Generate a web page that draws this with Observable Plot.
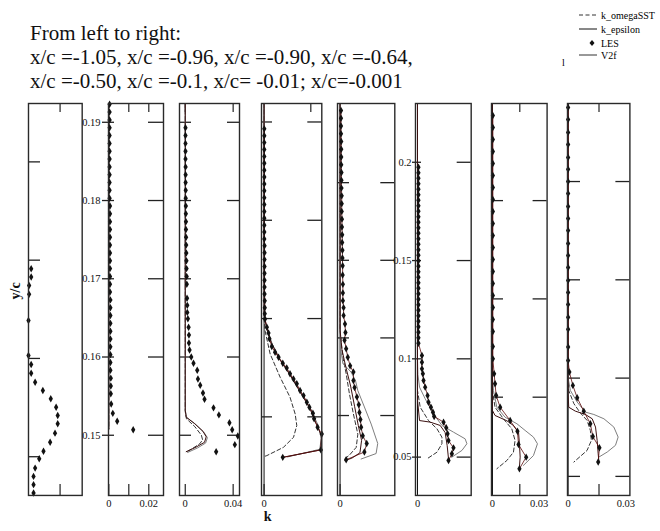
<!DOCTYPE html>
<html>
<head>
<meta charset="utf-8">
<script src="https://cdn.jsdelivr.net/npm/d3@7"></script>
<script src="https://cdn.jsdelivr.net/npm/@observablehq/plot@0.6"></script>
<style>
  body { margin: 0; background: #fff; }
  #fig { position: relative; width: 660px; height: 531px; overflow: hidden;
         font-family: "Liberation Serif", "DejaVu Serif", serif; color: #111; background: #fff; }
  #fig > svg { position: absolute; overflow: visible; }
  .title { position: absolute; left: 30px; top: 21px; font-size: 21px; line-height: 24px; white-space: nowrap; }
  .legend { position: absolute; left: 570px; top: 0; font-size: 10px; }
</style>
</head>
<body>
<div id="fig">
  <div class="title">From left to right:<br>x/c =-1.05, x/c =-0.96, x/c =-0.90, x/c =-0.64,<br>x/c =-0.50, x/c =-0.1, x/c= -0.01; x/c=-0.001</div>
  <svg class="legend" width="100" height="72" style="left:570px;top:0;font-family:'Liberation Serif',serif;font-size:10px">
    <line x1="9" y1="15" x2="27" y2="15" stroke="#333" stroke-width="1" stroke-dasharray="4,2.5"/>
    <text x="31" y="18.5">k_omegaSST</text>
    <line x1="9" y1="29" x2="27" y2="29" stroke="#111" stroke-width="1"/>
    <text x="31" y="32.5">k_epsilon</text>
    <path d="M22,40 L24.5,43 L22,46 L19.5,43 Z" fill="#111"/>
    <text x="31" y="46.5">LES</text>
    <line x1="9" y1="55" x2="27" y2="55" stroke="#333" stroke-width="1"/>
    <text x="31" y="58.5">V2f</text>
    <text x="-8" y="66">l</text>
  </svg>
</div>
<script>
// ---- station labels and tick values ----
const stations = ["-1.05", "-0.96", "-0.90", "-0.64", "-0.50", "-0.1", "-0.01", "-0.001"];
const yTicks1 = [0.2, 0.15, 0.1, 0.05];
const yTicks2 = [0.19, 0.18, 0.17, 0.16, 0.15];
const yTicks3 = [0.19, 0.18, 0.17, 0.16, 0.15];
const yTicks4 = [0.2, 0.15, 0.1, 0.05];
const yTicks5 = [0.18, 0.17, 0.16, 0.15];
const yTicks6 = [0.2, 0.15, 0.1, 0.05];
const yTicks7 = [0.15, 0.1, 0.05];
const yTicks8 = [0.2, 0.15, 0.1, 0.05];
const xLabels2 = [0, 0.02];
const xLabels3 = [0, 0.04];
const xLabels4 = [0];
const xLabels5 = [0];
const xLabels6 = [0];
const xLabels7 = [0, 0.03];
const xLabels8 = [0, 0.03];

// ---- LES profiles: [k, y/c] ----
const les1 = [[1.7e-5,0.1456],[1.7e-5,0.1414],[4e-6,0.1371],[4e-6,0.1326],[0,0.1193],[0,0.1015],[1.7e-5,0.0969],[1.7e-5,0.0925],[4.2e-5,0.0879],[9.1e-5,0.0837],[1.41e-4,0.0795],[1.75e-4,0.0752],[1.85e-4,0.071],[1.85e-4,0.0668],[1.68e-4,0.062],[1.37e-4,0.0574],[9.5e-5,0.0528],[6.8e-5,0.049],[4.2e-5,0.0442],[3.2e-5,0.04],[3.2e-5,0.0358],[3.2e-5,0.0315]];
const les2 = [[0.0004,0.1923],[0.0004,0.1913],[0.0004,0.1903],[0.0004,0.1893],[0.0004,0.1883],[0.0004,0.1873],[0.0004,0.1863],[0.0004,0.1853],[0.0004,0.1843],[0.0004,0.1833],[0.0004,0.1823],[0.0004,0.1813],[0.0004,0.1803],[0.0006,0.1793],[0.0006,0.1783],[0.0006,0.1773],[0.0006,0.1763],[0.0006,0.1753],[0.0006,0.1743],[0.0006,0.1733],[0.0006,0.1723],[0.0006,0.1713],[0.0006,0.1703],[0.0006,0.1693],[0.0006,0.1683],[0.0008,0.1673],[0.0008,0.1663],[0.0008,0.1653],[0.0008,0.1643],[0.0008,0.1633],[0.0008,0.1623],[0.0008,0.1613],[0.0008,0.1603],[0.0008,0.1593],[0.0008,0.1583],[0.001,0.1573],[0.001,0.1563],[0.001,0.1553],[0.0012,0.154],[0.002,0.1528],[0.0042,0.1518],[0.0122,0.1507]];
const les3 = [[0.0002,0.1893],[0.0002,0.1883],[0.0002,0.1873],[0.0002,0.1863],[0.0002,0.1853],[0.0003,0.1843],[0.0003,0.1833],[0.0003,0.1823],[0.0004,0.1813],[0.0004,0.1803],[0.0005,0.1793],[0.0005,0.1783],[0.0006,0.1773],[0.0006,0.1763],[0.0007,0.1753],[0.0008,0.1743],[0.0009,0.1733],[0.001,0.1723],[0.0011,0.1713],[0.0012,0.1703],[0.0013,0.1693],[0.0015,0.1675],[0.0017,0.1666],[0.0017,0.1657],[0.0022,0.1649],[0.0028,0.1638],[0.0031,0.1628],[0.0031,0.1618],[0.0036,0.1609],[0.005,0.16],[0.0069,0.1592],[0.01,0.1583],[0.0106,0.1572],[0.0125,0.1564],[0.0148,0.1554],[0.0161,0.1546],[0.0236,0.1535],[0.0281,0.1526],[0.0369,0.1516],[0.0392,0.1507],[0.0439,0.1499],[0.0414,0.1488],[0.0258,0.1479]];
const les4 = [[0.0001,0.1965],[0.0001,0.193],[0.0001,0.1895],[0.0001,0.186],[0.0001,0.1825],[0.0001,0.179],[0.0001,0.1755],[0.0001,0.172],[0.0001,0.1685],[0.0001,0.165],[0.0001,0.1615],[0.0001,0.158],[0.0001,0.1545],[0.0001,0.151],[0.0001,0.1475],[0.0001,0.144],[0.0001,0.1405],[0.0002,0.137],[0.0002,0.1335],[0.0002,0.13],[0.0002,0.1265],[0.0002,0.123],[0.0002,0.1195],[0.0002,0.116],[0.0002,0.1125],[0.0003,0.109],[0.0003,0.1055],[0.0003,0.1025],[0.0004,0.0998],[0.0012,0.0956],[0.0019,0.0927],[0.0023,0.0897],[0.0033,0.0858],[0.0047,0.0829],[0.0062,0.0803],[0.008,0.0773],[0.0097,0.0749],[0.0111,0.0719],[0.0126,0.0693],[0.014,0.0668],[0.0154,0.0634],[0.0169,0.0608],[0.0183,0.0574],[0.0194,0.0549],[0.0209,0.0518],[0.0214,0.049],[0.0229,0.0447],[0.0247,0.0413],[0.0243,0.0332],[0.008,0.0294]];
const les5 = [[0.0004,0.1893],[0.0004,0.1883],[0.0004,0.1873],[0.0004,0.1863],[0.0005,0.1853],[0.0005,0.1843],[0.0005,0.1833],[0.0005,0.1823],[0.0006,0.1813],[0.0006,0.1803],[0.0006,0.1793],[0.0007,0.1783],[0.0007,0.1773],[0.0007,0.1763],[0.0008,0.1753],[0.0008,0.1743],[0.0009,0.1733],[0.0009,0.1723],[0.001,0.1713],[0.001,0.1703],[0.0011,0.1693],[0.0011,0.1681],[0.0012,0.1669],[0.0012,0.1658],[0.0012,0.1648],[0.0015,0.1639],[0.0015,0.1629],[0.0021,0.1618],[0.0023,0.1607],[0.0019,0.1597],[0.0026,0.1586],[0.0033,0.1575],[0.0043,0.1564],[0.0057,0.1556],[0.0057,0.1545],[0.0062,0.1536],[0.0072,0.1524],[0.008,0.1514],[0.0083,0.1504],[0.0087,0.1495],[0.009,0.1485],[0.0097,0.1474],[0.0114,0.1464],[0.0104,0.1453],[0.0026,0.1443]];
const les6 = [[0.0007,0.1975],[0.0007,0.1947],[0.0007,0.1919],[0.0007,0.1891],[0.0007,0.1863],[0.0007,0.1835],[0.0007,0.1807],[0.0007,0.1779],[0.0007,0.1751],[0.0007,0.1723],[0.0007,0.1695],[0.0007,0.1667],[0.0007,0.1639],[0.0007,0.1611],[0.0007,0.1583],[0.0007,0.1555],[0.0007,0.1527],[0.0007,0.1499],[0.0007,0.1471],[0.0007,0.1443],[0.0007,0.1415],[0.0007,0.1387],[0.0007,0.1359],[0.0007,0.1331],[0.0007,0.1303],[0.0007,0.1275],[0.0007,0.1247],[0.0007,0.1219],[0.0007,0.1191],[0.0007,0.1163],[0.0007,0.1135],[0.0007,0.1107],[0.0007,0.1079],[0.0033,0.1017],[0.0033,0.0983],[0.0033,0.0949],[0.004,0.0924],[0.0045,0.089],[0.0057,0.0856],[0.0075,0.0813],[0.0082,0.0779],[0.01,0.0754],[0.0115,0.0728],[0.0124,0.0707],[0.0194,0.0678],[0.0214,0.0649],[0.0224,0.0619],[0.0231,0.0584],[0.0268,0.0547],[0.0256,0.0517],[0.0231,0.0483]];
const les7 = [[0.0002,0.1933],[0.0002,0.1872],[0.0002,0.1811],[0.0002,0.175],[0.0002,0.1689],[0.0002,0.1628],[0.0002,0.1567],[0.0002,0.1506],[0.0002,0.1445],[0.0002,0.1383],[0.0002,0.1322],[0.0002,0.1261],[0.0002,0.12],[0.0002,0.1139],[0.0002,0.1078],[0.0002,0.1017],[0.0002,0.0956],[0.0002,0.0895],[0.0002,0.0834],[0.0002,0.0758],[0.0002,0.0695],[0.0009,0.0619],[0.0014,0.0568],[0.002,0.0509],[0.0042,0.0449],[0.0097,0.0381],[0.0137,0.0327],[0.0143,0.0259],[0.0185,0.0195],[0.0148,0.0136]];
const les8 = [[0,0.2377],[0,0.2316],[0,0.225],[0,0.2188],[0,0.2122],[0,0.2062],[0,0.2],[0,0.1939],[0,0.1873],[0,0.1812],[0,0.1751],[0,0.1685],[0,0.1624],[0,0.1563],[0,0.1497],[0,0.1436],[0,0.1375],[0,0.1309],[0,0.1248],[0,0.1158],[0,0.109],[0.0006,0.1031],[0.0023,0.0963],[0.0044,0.09],[0.0076,0.0832],[0.0108,0.0768],[0.012,0.0703],[0.0152,0.0646],[0.0146,0.0573]];

// ---- RANS model profiles: [k, y/c] ----
const kOmega2 = [[0,0.1924],[0,0.1508]];
const kEps2 = [[0,0.1924],[0,0.1508]];
const v2f2 = [[0,0.1924],[0,0.1508]];
const kOmega3 = [[0,0.1924],[0,0.153],[0.001,0.1521],[0.008,0.1511],[0.0135,0.15],[0.0145,0.1494],[0.012,0.1489],[0.006,0.1483],[0.0005,0.1478]];
const kEps3 = [[0,0.1924],[0,0.1532],[0.0008,0.1523],[0.0078,0.1515],[0.0148,0.1505],[0.0175,0.1498],[0.0161,0.1491],[0.0092,0.1485],[0.0008,0.1479]];
const v2f3 = [[0,0.1924],[0,0.1532],[0.0012,0.1523],[0.0085,0.1514],[0.0155,0.1504],[0.0185,0.1497],[0.017,0.149],[0.0105,0.1484],[0.002,0.1478]];
const kOmega4 = [[0,0.2094],[0,0.1],[0.0004,0.0939],[0.0026,0.082],[0.0069,0.0701],[0.0111,0.06],[0.0133,0.0515],[0.014,0.0456],[0.0126,0.0396],[0.0083,0.0345],[0.0012,0.0303],[0,0.0298]];
const kEps4 = [[0,0.2094],[0,0.102],[0.001,0.096],[0.003,0.088],[0.0065,0.0795],[0.011,0.0715],[0.0155,0.0625],[0.0195,0.0545],[0.0225,0.046],[0.0245,0.0405],[0.0243,0.0332],[0.008,0.0294]];
const v2f4 = [[0,0.2094],[0,0.101],[0.0012,0.095],[0.0035,0.087],[0.007,0.079],[0.0115,0.071],[0.016,0.062],[0.02,0.054],[0.023,0.046],[0.0245,0.039],[0.0238,0.0335],[0.01,0.0296]];
const kOmega5 = [[0,0.1902],[0,0.161],[0.0004,0.1597],[0.0012,0.1575],[0.0026,0.1554],[0.004,0.1528],[0.0057,0.1502],[0.0076,0.1476],[0.0069,0.1459],[0.004,0.1449],[0.0019,0.1444]];
const kEps5 = [[0,0.1902],[0,0.161],[0.0008,0.1585],[0.0025,0.1562],[0.0045,0.1538],[0.0062,0.1512],[0.0078,0.1487],[0.0092,0.1468],[0.0085,0.1452],[0.005,0.1445],[0.002,0.1442]];
const v2f5 = [[0,0.1902],[0,0.161],[0.0003,0.1585],[0.0012,0.1567],[0.0047,0.1556],[0.0066,0.1545],[0.0076,0.1532],[0.0104,0.1511],[0.0133,0.1489],[0.0161,0.1464],[0.0154,0.1451],[0.009,0.1444]];
const kOmega6 = [[0,0.2299],[0,0.0839],[0.002,0.0754],[0.0082,0.0686],[0.0145,0.0644],[0.0182,0.0601],[0.0182,0.0568],[0.0145,0.0525],[0.007,0.0491]];
const kEps6 = [[0,0.2299],[0,0.079],[0.0015,0.0686],[0.0095,0.0678],[0.0169,0.0661],[0.0206,0.0625],[0.0221,0.0559],[0.0231,0.0491]];
const v2f6 = [[0,0.2299],[0,0.1],[0.0003,0.092],[0.0015,0.0856],[0.0057,0.0797],[0.0119,0.072],[0.0182,0.0661],[0.0268,0.0627],[0.0355,0.0593],[0.0368,0.0568],[0.0331,0.0534],[0.0256,0.05]];
const kOmega7 = [[0,0.1994],[0,0.058],[0.0002,0.0517],[0.0014,0.0449],[0.006,0.039],[0.0106,0.0339],[0.0124,0.028],[0.0115,0.022],[0.0079,0.0178],[0.0024,0.0136]];
const kEps7 = [[0,0.1994],[0,0.0432],[0.0014,0.0407],[0.0079,0.038],[0.0115,0.0356],[0.0143,0.0322],[0.0148,0.0263],[0.0152,0.0195],[0.0148,0.0144]];
const v2f7 = [[0,0.1994],[0,0.06],[0.0005,0.0534],[0.0024,0.0449],[0.0069,0.0398],[0.0134,0.0365],[0.0179,0.0331],[0.0225,0.0297],[0.0247,0.0263],[0.0225,0.0203],[0.017,0.0153]];
const kOmega8 = [[0,0.2397],[0,0.098],[0.0003,0.0937],[0.0028,0.087],[0.006,0.0822],[0.0092,0.0785],[0.0108,0.0734],[0.0113,0.0683],[0.0092,0.0632],[0.0028,0.0573]];
const kEps8 = [[0,0.2397],[0,0.092],[0.0003,0.0852],[0.0035,0.0832],[0.0084,0.0815],[0.0117,0.0793],[0.0133,0.0751],[0.0141,0.0683],[0.0146,0.0615],[0.0149,0.0581]];
const v2f8 = [[0,0.2397],[0,0.1],[0.0011,0.0937],[0.0044,0.0878],[0.0084,0.0827],[0.0125,0.0815],[0.0174,0.0793],[0.0222,0.0751],[0.0243,0.07],[0.023,0.0658],[0.019,0.0624],[0.0149,0.0598]];

// ---- panel layout (pixel frame edges, scale domains, tick styling) ----
const TOP = 103, BOTTOM = 495;
const panels = [
  {left: 28.3, right: 82, x: [0, 0.00034], y: [0.0303, 0.2297], les: les1, yTicks: yTicks1,
   leftTick: [0, 12], rightTick: 0, topTicks: [0.0002], botTicks: [0.0002], yAxisTitle: "y/c"},
  {left: 108, right: 163, x: [-0.00015, 0.02735], y: [0.1423, 0.1924], les: les2, kOmega: kOmega2, kEps: kEps2, v2f: v2f2,
   yTicks: yTicks2, yLabels: true, labelPad: 8, leftTick: [6, 6], rightTick: 15, topTicks: [0.01, 0.02], botTicks: [0, 0.01, 0.02], xLabels: xLabels2},
  {left: 179.3, right: 239.3, x: [-0.0048, 0.0453], y: [0.1423, 0.1924], les: les3, kOmega: kOmega3, kEps: kEps3, v2f: v2f3,
   yTicks: yTicks3, leftTick: [0, 12], rightTick: 12, topTicks: [0, 0.04], botTicks: [0, 0.04], xLabels: xLabels3},
  {left: 260.7, right: 321, x: [-0.0011, 0.0247], y: [0.01, 0.2094], les: les4, kOmega: kOmega4, kEps: kEps4, v2f: v2f4,
   yTicks: yTicks4, leftTick: [0, 11], rightTick: 14, topTicks: [0.02], botTicks: [0], xLabels: xLabels4, zeroRule: true, lesLine: true, xTitle: "k"},
  {left: 336.7, right: 394, x: [-0.0011, 0.0234], y: [0.1397, 0.1902], les: les5, kOmega: kOmega5, kEps: kEps5, v2f: v2f5,
   yTicks: yTicks5, leftTick: [0, 12], rightTick: 14, topTicks: [], botTicks: [0], xLabels: xLabels5, zeroRule: true, lesLine: true},
  {left: 415.3, right: 471, x: [-0.0015, 0.04], y: [0.0305, 0.2299], les: les6, kOmega: kOmega6, kEps: kEps6, v2f: v2f6,
   yTicks: yTicks6, yLabels: true, labelPad: 4, leftTick: [3, 6], rightTick: 14, topTicks: [], botTicks: [], xLabels: xLabels6, zeroRule: true, lesLine: true},
  {left: 490.7, right: 546.3, x: [-0.00055, 0.03], y: [0, 0.1994], les: les7, kOmega: kOmega7, kEps: kEps7, v2f: v2f7,
   yTicks: yTicks7, leftTick: [0, 12], rightTick: 14, topTicks: [0.015], botTicks: [0.015], xLabels: xLabels7, lastDx: -8, zeroRule: true, lesLine: true},
  {left: 567.3, right: 629.7, x: [-0.0003, 0.03], y: [0.0403, 0.2397], les: les8, kOmega: kOmega8, kEps: kEps8, v2f: v2f8,
   yTicks: yTicks8, leftTick: [0, 13], rightTick: 14, topTicks: [0.015], botTicks: [0.015], xLabels: xLabels8, lastDx: -4, zeroRule: true, lesLine: true}
];

const ML = 34, MR = 4, MT = 4, MB = 36;
const K = d => d[0], Y = d => d[1];
const fmt = d => (d === 0 ? "0" : String(d));

function drawPanel(p) {
  const W = p.right - p.left, H = BOTTOM - TOP;
  const marks = [];
  if (p.zeroRule) marks.push(Plot.ruleX([0], {stroke: "#111", strokeWidth: 1}));
  // inward ticks on the left and right borders
  marks.push(Plot.tickY(p.yTicks, {y: d => d, stroke: "#222", strokeWidth: 1.3,
    insetLeft: -p.leftTick[0], insetRight: W - p.leftTick[1]}));
  if (p.rightTick) marks.push(Plot.tickY(p.yTicks, {y: d => d, stroke: "#222", strokeWidth: 1.3,
    insetLeft: W - p.rightTick}));
  // short ticks on the top and bottom borders
  marks.push(Plot.tickX(p.topTicks, {x: d => d, stroke: "#222", strokeWidth: 1.2, insetBottom: H - 9}));
  marks.push(Plot.tickX(p.botTicks, {x: d => d, stroke: "#222", strokeWidth: 1.2, insetTop: H - 11}));
  // model curves
  if (p.kOmega) marks.push(Plot.line(p.kOmega, {x: K, y: Y, stroke: "#333", strokeWidth: 1, strokeDasharray: "4,2.5"}));
  if (p.v2f) marks.push(Plot.line(p.v2f, {x: K, y: Y, stroke: "#7d7d7d", strokeWidth: 1}));
  if (p.kEps) marks.push(Plot.line(p.kEps, {x: K, y: Y, stroke: "#3a1010", strokeWidth: 1}));
  if (p.lesLine) marks.push(Plot.line(p.les, {x: K, y: Y, stroke: "#5a0a0a", strokeWidth: 0.8}));
  // LES samples
  marks.push(Plot.dot(p.les, {x: K, y: Y, symbol: "diamond", r: 2.25, fill: "#111", stroke: "none"}));
  marks.push(Plot.frame({stroke: "#2a2a2a", strokeWidth: 1.4}));
  // tick labels
  if (p.yLabels) marks.push(Plot.axisY({ticks: p.yTicks, anchor: "left", tickSize: 0, tickPadding: p.labelPad,
    tickFormat: fmt, fontSize: 10.5, label: null}));
  if (p.xLabels) {
    const main = p.lastDx ? p.xLabels.slice(0, -1) : p.xLabels;
    marks.push(Plot.axisX({ticks: main, anchor: "bottom", tickSize: 0, tickPadding: 4, tickFormat: fmt, fontSize: 10.5, label: null}));
    if (p.lastDx) marks.push(Plot.axisX({ticks: p.xLabels.slice(-1), anchor: "bottom", tickSize: 0, tickPadding: 4,
      tickFormat: fmt, fontSize: 10.5, label: null, dx: p.lastDx}));
  }
  if (p.yAxisTitle) marks.push(Plot.text([p.yAxisTitle], {frameAnchor: "left", dx: -13, rotate: -90,
    fontSize: 14, fontWeight: "bold", fill: "#111"}));
  if (p.xTitle) marks.push(Plot.text([p.xTitle], {frameAnchor: "bottom", dx: -24, dy: 26,
    fontSize: 14, fontWeight: "bold", fill: "#111"}));

  const svg = Plot.plot({
    width: W + ML + MR, height: H + MT + MB,
    marginLeft: ML, marginRight: MR, marginTop: MT, marginBottom: MB,
    x: {domain: p.x, axis: null},
    y: {domain: p.y, axis: null},
    style: {fontFamily: "Liberation Serif, DejaVu Serif, serif", background: "transparent", overflow: "visible", color: "#111"},
    marks
  });
  svg.style.left = (p.left - ML) + "px";
  svg.style.top = (TOP - MT) + "px";
  return svg;
}

const fig = document.getElementById("fig");
panels.forEach((p, i) => {
  const svg = drawPanel(p);
  svg.setAttribute("aria-label", "x/c = " + stations[i]);
  fig.appendChild(svg);
});
</script>
</body>
</html>
